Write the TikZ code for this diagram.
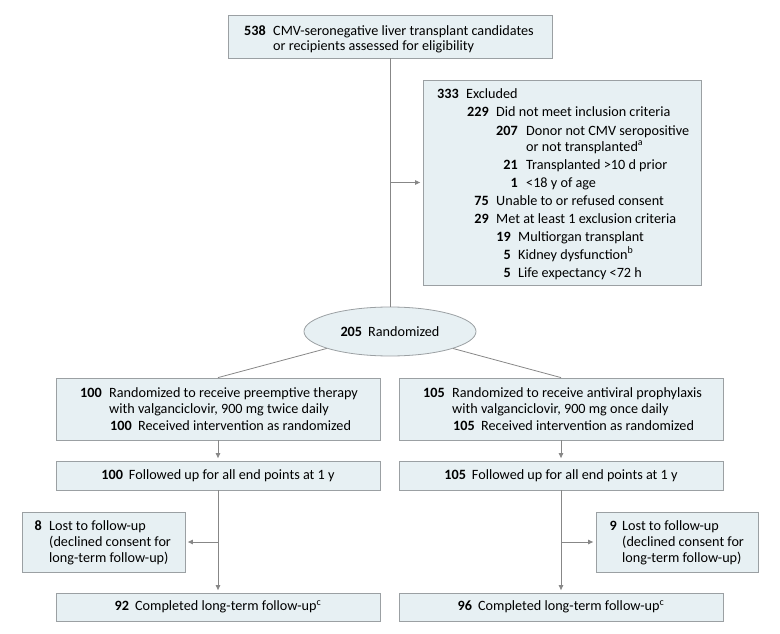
\documentclass[tikz,border=0pt]{standalone}
\usepackage{fontspec}
\setmainfont{Carlito}
\usetikzlibrary{shapes.geometric,arrows.meta}
\definecolor{boxfill}{RGB}{231,240,243}
\definecolor{boxline}{RGB}{155,160,163}
\definecolor{conn}{RGB}{135,135,135}
\newcommand{\fsz}{\fontsize{14.2}{16}\selectfont}
\begin{document}
\begin{tikzpicture}[x=1pt,y=-1pt,
  box/.style={draw=boxline, fill=boxfill, line width=0.8pt, inner sep=0pt, rectangle, font=\fsz},
  oval/.style={draw=boxline, fill=boxfill, line width=0.8pt, inner sep=0pt, ellipse, font=\fsz},
  num/.style={font=\fsz\bfseries, anchor=base east, inner sep=0pt},
  txt/.style={font=\fsz, anchor=base west, inner sep=0pt},
  ln/.style={draw=conn, line width=0.8pt},
  arr/.style={draw=conn, line width=0.8pt, -{Triangle[length=5pt,width=4.5pt]}, shorten >=2.5pt}
]
\useasboundingbox (0,0) rectangle (780,634);

% boxes
\node[box, minimum width=324pt, minimum height=43pt] (top) at (390,36.5) {};
\node[box, minimum width=278pt, minimum height=205pt] (excl) at (562,182.5) {};
\node[oval, minimum width=172pt, minimum height=49pt] (rand) at (390,331.5) {\textbf{205}\hspace{6pt}Randomized};
\node[box, minimum width=324pt, minimum height=62pt] (lbox) at (218,409) {};
\node[box, minimum width=324pt, minimum height=62pt] (rbox) at (561,409) {};
\node[box, minimum width=324pt, minimum height=29pt] (lfol) at (218,475.5) {\textbf{100}\hspace{6pt}Followed up for all end points at 1 y};
\node[box, minimum width=324pt, minimum height=29pt] (rfol) at (561,475.5) {\textbf{105}\hspace{6pt}Followed up for all end points at 1 y};
\node[box, minimum width=163pt, minimum height=60pt] (llost) at (103.5,542) {};
\node[box, minimum width=162pt, minimum height=60pt] (rlost) at (677,542) {};
\node[box, minimum width=324pt, minimum height=28pt] (lcomp) at (218,607) {\textbf{92}\hspace{6pt}Completed long-term follow-up\textsuperscript{c}};
\node[box, minimum width=324pt, minimum height=28pt] (rcomp) at (561,607) {\textbf{96}\hspace{6pt}Completed long-term follow-up\textsuperscript{c}};

% top text
\node[num] (n538) at (266,36) {538};
\node[txt] (t538a) at (273,36) {CMV-seronegative liver transplant candidates};
\node[txt] (t538b) at (273,51) {or recipients assessed for eligibility};

% excluded text
\node[num] (n333) at (459,99) {333};
\node[txt] (t333) at (466,99) {Excluded};
\node[num] (n229) at (489,117) {229};
\node[txt] (t229) at (496,117) {Did not meet inclusion criteria};
\node[num] (n207) at (518,135.5) {207};
\node[txt] (t207a) at (526,135.5) {Donor not CMV seropositive};
\node[txt] (t207b) at (526,151) {or not transplanted\textsuperscript{a}};
\node[num] (n21) at (518,169) {21};
\node[txt] (t21) at (526,169) {Transplanted >10 d prior};
\node[num] (n1) at (518,187) {1};
\node[txt] (t1) at (526,187) {<18 y of age};
\node[num] (n75) at (489,205) {75};
\node[txt] (t75) at (496,205) {Unable to or refused consent};
\node[num] (n29) at (489,223) {29};
\node[txt] (t29) at (496,223) {Met at least 1 exclusion criteria};
\node[num] (n19) at (511,241) {19};
\node[txt] (t19) at (518,241) {Multiorgan transplant};
\node[num] (n5a) at (511,259) {5};
\node[txt] (t5a) at (518,259) {Kidney dysfunction\textsuperscript{b}};
\node[num] (n5b) at (511,277) {5};
\node[txt] (t5b) at (518,277) {Life expectancy <72 h};

% left arm text
\node[num] (nl1) at (102,397) {100};
\node[txt] (tl1a) at (109,397) {Randomized to receive preemptive therapy};
\node[txt] (tl1b) at (109,413) {with valganciclovir, 900 mg twice daily};
\node[num] (nl2) at (132,430) {100};
\node[txt] (tl2) at (138,430) {Received intervention as randomized};

% right arm text
\node[num] (nr1) at (445,397) {105};
\node[txt] (tr1a) at (452,397) {Randomized to receive antiviral prophylaxis};
\node[txt] (tr1b) at (452,413) {with valganciclovir, 900 mg once daily};
\node[num] (nr2) at (475,430) {105};
\node[txt] (tr2) at (481,430) {Received intervention as randomized};

% lost text
\node[num] (nll) at (42,530) {8};
\node[txt] (tlla) at (49,530) {Lost to follow-up};
\node[txt] (tllb) at (49,546) {(declined consent for};
\node[txt] (tllc) at (49,562) {long-term follow-up)};
\node[num] (nrl) at (617,530) {9};
\node[txt] (trla) at (622,530) {Lost to follow-up};
\node[txt] (trlb) at (622,546) {(declined consent for};
\node[txt] (trlc) at (622,562) {long-term follow-up)};

% connectors
\draw[ln] (top.south) -- (rand.north);
\coordinate (j1) at (top.south |- excl.west);
\draw[arr] (j1) -- (excl.west);
\draw[ln] (rand) -- (lbox.north);
\draw[ln] (rand) -- (rbox.north);
\draw[arr] (lbox.south) -- (lfol.north);
\draw[arr] (rbox.south) -- (rfol.north);
\draw[arr] (lfol.south) -- (lcomp.north);
\draw[arr] (rfol.south) -- (rcomp.north);
\coordinate (lj) at (lfol.south |- llost.east);
\coordinate (rj) at (rfol.south |- rlost.west);
\draw[arr] (lj) -- (llost.east);
\draw[arr] (rj) -- (rlost.west);
\end{tikzpicture}
\end{document}
